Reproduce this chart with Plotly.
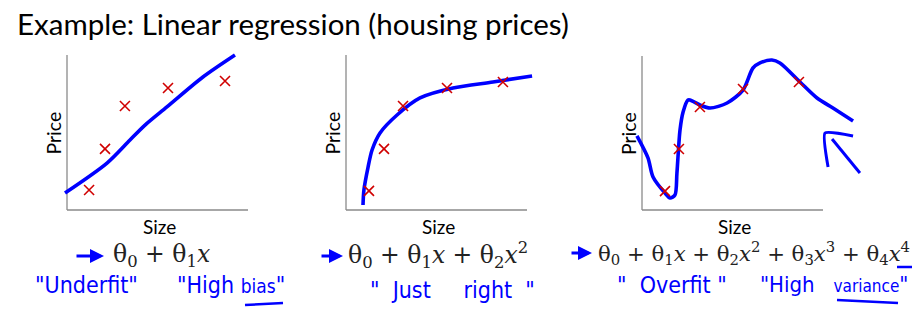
import plotly.graph_objects as go

W, H = 924, 317

# ---------------- data (Size, Price in arbitrary units 0..10) ----------------
pts_size = [1.22, 2.10, 3.20, 5.58, 8.73]
pts_price = [1.29, 3.94, 6.71, 7.87, 8.32]

fit1_size = [-0.11, 2.21, 3.48, 4.31, 5.52, 7.51, 9.28]
fit1_price = [1.10, 3.03, 4.52, 5.48, 6.65, 8.58, 10.0]

pts2_size = [1.27, 2.10, 3.15, 5.58, 8.67]
pts2_price = [1.23, 3.94, 6.71, 7.87, 8.26]
fit2_size = [0.94, 0.99, 1.22, 1.44, 1.88, 2.82, 4.09, 5.91, 8.12, 10.28]
fit2_price = [0.32, 1.29, 2.77, 3.87, 4.97, 6.13, 7.23, 7.87, 8.26, 8.65]

pts3_size = [1.27, 2.04, 3.20, 5.58, 8.67]
pts3_price = [1.23, 3.96, 6.69, 7.86, 8.31]
fit3_size = [-0.28, 0.33, 0.61, 1.27, 1.55, 1.82, 1.93, 2.10, 2.27, 2.54, 2.65,
             3.20, 3.76, 4.70, 5.58, 6.13, 6.52, 7.18, 7.62, 8.73, 9.67, 10.55, 11.66]
fit3_price = [4.81, 3.38, 2.14, 1.10, 0.78, 0.97, 2.40, 5.19, 6.36, 7.14, 7.14,
              6.82, 6.62, 6.95, 7.79, 9.22, 9.55, 9.74, 9.55, 8.31, 7.27, 6.62, 5.78]
arrow_a_size = [10.28, 10.11, 11.66]
arrow_a_price = [2.79, 5.00, 4.81]
arrow_b_size = [10.50, 12.04]
arrow_b_price = [4.61, 2.40]

title = "Example: Linear regression (housing prices)"
x_label = "Size"
y_label = "Price"
formulas = ["θ<sub>0</sub> + θ<sub>1</sub><i>x</i>",
            "θ<sub>0</sub> + θ<sub>1</sub><i>x</i> + θ<sub>2</sub><i>x</i><sup>2</sup>",
            "θ<sub>0</sub> + θ<sub>1</sub><i>x</i> + θ<sub>2</sub><i>x</i><sup>2</sup> + θ<sub>3</sub><i>x</i><sup>3</sup> + θ<sub>4</sub><i>x</i><sup>4</sup>"]
notes = ["\"Underfit\"",
         "\"High <span style='font-size:19px'>bias</span>\"",
         "\"  Just     right  \"",
         "\"  Overfit \"",
         "\"High   <span style='font-size:17px'>variance</span>\""]

BLUE = "#0000ff"
RED = "#d00000"
GRAY = "#8a8a8a"

# panel geometry in pixels: axis box (left, right, top, bottom), plot region (left, right, top, bottom)
panels = [
    dict(axis=(67, 248, 55, 210), region=(55, 260, 45, 215)),
    dict(axis=(346, 527, 55, 210), region=(335, 545, 45, 215)),
    dict(axis=(642, 823, 56, 210), region=(625, 875, 45, 215)),
]

fig = go.Figure()
layout = dict(width=W, height=H, margin=dict(l=0, r=0, t=0, b=0),
              paper_bgcolor="white", plot_bgcolor="rgba(0,0,0,0)", showlegend=False)

shapes = []
annotations = []

def px(x):
    return x / W

def py(y):
    return 1 - y / H

def label(text, x, y, size, color="black", family="Lato", xanchor="center", angle=0):
    annotations.append(dict(text=text, xref="paper", yref="paper", x=px(x), y=py(y),
                            xanchor=xanchor, yanchor="middle", textangle=angle,
                            showarrow=False,
                            font=dict(family=family, size=size, color=color)))

for i, p in enumerate(panels):
    al, ar, at, ab = p["axis"]
    rl, rr, rt, rb = p["region"]
    sx = 10 / (ar - al)
    sy = 10 / (ab - at)
    xr = [(rl - al) * sx, (rr - al) * sx]
    yr = [(ab - rb) * sy, (ab - rt) * sy]
    n = "" if i == 0 else str(i + 1)
    layout["xaxis" + n] = dict(domain=[px(rl), px(rr)], range=xr, visible=False,
                               anchor="y" + n, fixedrange=True)
    layout["yaxis" + n] = dict(domain=[py(rb), py(rt)], range=yr, visible=False,
                               anchor="x" + n, fixedrange=True)
    xref, yref = "x" + n, "y" + n
    shapes.append(dict(type="line", xref=xref, yref=yref, x0=0, y0=0, x1=0, y1=10,
                       line=dict(color=GRAY, width=1.3), layer="below"))
    shapes.append(dict(type="line", xref=xref, yref=yref, x0=0, y0=0, x1=10, y1=0,
                       line=dict(color=GRAY, width=1.3), layer="below"))
    label(y_label, al - 14, (at + ab) / 2 + 1, 19.5, angle=-90)
    label(x_label, (al + ar) / 2 + 2, 226, 19)

line_style = dict(color=BLUE, width=3.6, shape="spline", smoothing=0.8)
mk = dict(symbol="x-thin", size=10, line=dict(color=RED, width=1.6), color=RED)

fig.add_trace(go.Scatter(x=fit1_size, y=fit1_price, mode="lines", line=line_style,
                         xaxis="x", yaxis="y"))
fig.add_trace(go.Scatter(x=pts_size, y=pts_price, mode="markers", marker=mk,
                         xaxis="x", yaxis="y"))
fig.add_trace(go.Scatter(x=fit2_size, y=fit2_price, mode="lines", line=line_style,
                         xaxis="x2", yaxis="y2"))
fig.add_trace(go.Scatter(x=pts2_size, y=pts2_price, mode="markers", marker=mk,
                         xaxis="x2", yaxis="y2"))
fig.add_trace(go.Scatter(x=fit3_size, y=fit3_price, mode="lines", line=line_style,
                         xaxis="x3", yaxis="y3"))
fig.add_trace(go.Scatter(x=pts3_size, y=pts3_price, mode="markers", marker=mk,
                         xaxis="x3", yaxis="y3"))
thin = dict(color=BLUE, width=3, shape="spline", smoothing=0.5)
fig.add_trace(go.Scatter(x=arrow_a_size, y=arrow_a_price, mode="lines", line=thin,
                         xaxis="x3", yaxis="y3"))
fig.add_trace(go.Scatter(x=arrow_b_size, y=arrow_b_price, mode="lines", line=thin,
                         xaxis="x3", yaxis="y3"))

# title
label(title, 15, 24, 29.5, xanchor="left")

# formulas
formula_pos = [(111, 255, 23.5), (346, 255, 23.5), (596, 253, 21.2)]
for (fx, fy, fs), f in zip(formula_pos, formulas):
    label(f, fx, fy, fs, color="#222222", family="DejaVu Serif", xanchor="left")

# hand-drawn arrows before formulas (head x, tail x, y)
for hx, tx, ay in [(104, 75, 256), (343, 320, 256), (592, 570, 253)]:
    annotations.append(dict(text="", xref="paper", yref="paper", x=px(hx), y=py(ay),
                            axref="pixel", ayref="pixel", ax=tx - hx, ay=0,
                            showarrow=True, arrowhead=2, arrowsize=1, arrowwidth=2.8,
                            arrowcolor=BLUE))

# handwritten notes (anchor x, y, size, xanchor)
note_pos = [(86, 285, 23, "center"), (231, 285, 23, "center"), (452, 290, 23, "center"),
            (672, 285, 23, "center"), (758, 284, 22, "left")]
for t, (hx, hy, hs, xa) in zip(notes, note_pos):
    label(t, hx, hy, hs, color=BLUE, family="DejaVu Sans Condensed, DejaVu Sans", xanchor=xa)

for x0, y0, x1, y1 in [(245, 305, 283, 303), (837, 300, 898, 303), (897, 267, 912, 267)]:
    shapes.append(dict(type="line", xref="paper", yref="paper", x0=px(x0), y0=py(y0),
                       x1=px(x1), y1=py(y1), line=dict(color=BLUE, width=2.5)))

layout["shapes"] = shapes
layout["annotations"] = annotations
fig.update_layout(**layout)
fig.write_html("out.html")
